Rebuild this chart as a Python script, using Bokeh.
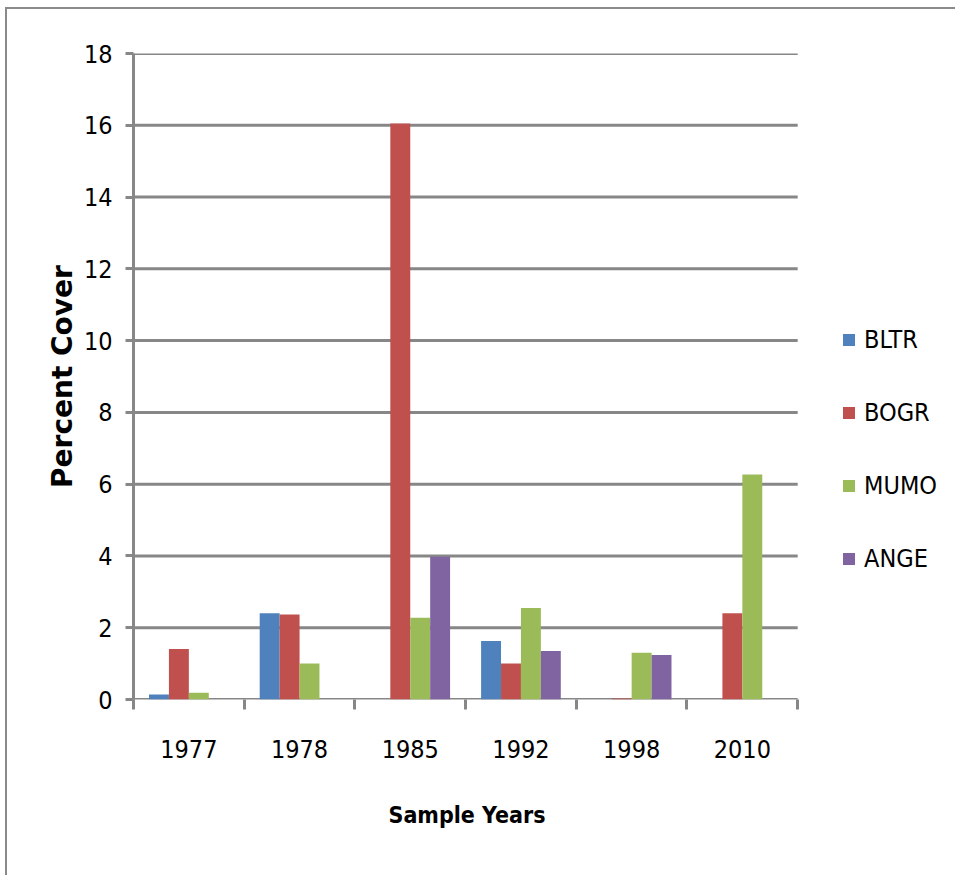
from bokeh.plotting import figure
from bokeh.models import FixedTicker, Legend, LegendItem, Range1d, Title
from bokeh.embed import file_html
from bokeh.resources import INLINE

years = ["1977", "1978", "1985", "1992", "1998", "2010"]
species = ["BLTR", "BOGR", "MUMO", "ANGE"]
bltr = [0.14, 2.40, 0.0, 1.63, 0.0, 0.0]
bogr = [1.41, 2.37, 16.05, 1.0, 0.03, 2.40]
mumo = [0.19, 1.0, 2.28, 2.55, 1.30, 6.27]
ange = [0.0, 0.0, 3.98, 1.35, 1.24, 0.0]
colors = ["#4F81BD", "#C0504D", "#9BBB59", "#8064A2"]
y_ticks = [0, 2, 4, 6, 8, 10, 12, 14, 16, 18]

FONT = "'DejaVu Sans Condensed', 'Liberation Sans Narrow', Roboto, sans-serif"
GRID = "#878787"

n = len(years)
p = figure(width=950, height=868, output_backend="svg", toolbar_location=None,
           x_range=Range1d(0, n * 825 / 665), y_range=Range1d(0, 18),
           min_border_left=126, min_border_right=0, min_border_top=44,
           min_border_bottom=178)
p.styles = {"border-top": "2px solid #8a8a8a", "border-left": "2px solid #8a8a8a",
            "margin-left": "5px", "margin-top": "7px"}
p.outline_line_color = None

# horizontal gridlines only across the category area
p.segment(x0=[0] * len(y_ticks), x1=[n] * len(y_ticks), y0=y_ticks, y1=y_ticks,
          line_color=GRID, line_width=3)

bar_w = 0.18
offsets = [-0.27, -0.09, 0.09, 0.27]
series = [bltr, bogr, mumo, ange]
renderers = []
for s, vals, c, off in zip(species, series, colors, offsets):
    xs = [i + 0.5 + off for i in range(n)]
    r = p.vbar(x=xs, top=vals, width=bar_w, bottom=0, fill_color=c,
               line_color=None)
    renderers.append((s, r))

# axes
xa = p.xaxis[0]
xa.ticker = FixedTicker(ticks=[i + 0.5 for i in range(n)],
                        minor_ticks=list(range(n + 1)))
xa.major_label_overrides = {i + 0.5: y for i, y in enumerate(years)}
xa.major_tick_line_color = None
xa.minor_tick_line_color = GRID
xa.minor_tick_line_width = 3
xa.minor_tick_out = 10
xa.minor_tick_in = 0
xa.axis_line_color = None
xa.major_label_text_font = FONT
xa.major_label_text_font_size = "25px"
xa.major_label_text_color = "black"
xa.major_label_standoff = 30

p.add_layout(Title(text="Sample Years", align="left", offset=255, standoff=78,
                   text_font=FONT, text_font_style="bold",
                   text_font_size="23px", text_color="black"), "below")

ya = p.yaxis[0]
ya.ticker = FixedTicker(ticks=y_ticks, minor_ticks=[])
ya.major_tick_line_color = GRID
ya.major_tick_line_width = 3
ya.major_tick_out = 8
ya.major_tick_in = 0
ya.axis_line_color = GRID
ya.axis_line_width = 3
ya.major_label_text_font = FONT
ya.major_label_text_font_size = "25px"
ya.major_label_text_color = "black"
ya.major_label_standoff = 13
ya.axis_label = "Percent Cover"
ya.axis_label_text_font = "DejaVu Sans"
ya.axis_label_text_font_style = "bold"
ya.axis_label_text_font_size = "28px"
ya.axis_label_text_color = "black"
ya.axis_label_standoff = 2

p.xgrid.grid_line_color = None
p.ygrid.grid_line_color = None

legend = Legend(items=[LegendItem(label=s, renderers=[r]) for s, r in renderers],
                location=(708, 126), orientation="vertical",
                border_line_color=None, background_fill_alpha=0,
                padding=0, margin=0, spacing=43,
                glyph_width=15, glyph_height=15, label_height=30,
                label_standoff=8,
                label_text_font=FONT, label_text_font_size="25px",
                label_text_color="black")
p.add_layout(legend, "center")

open("out.html", "w").write(file_html(p, INLINE))
